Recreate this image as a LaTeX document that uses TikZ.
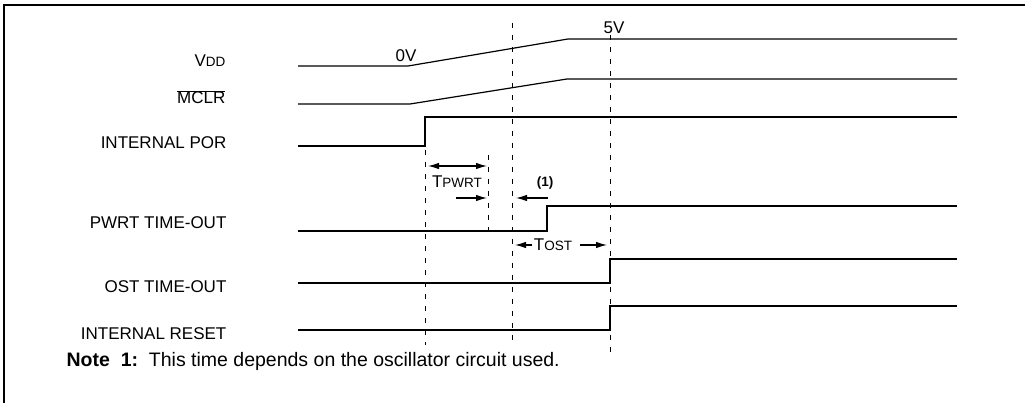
\documentclass[tikz,border=0pt]{standalone}
\usepackage{fontspec}
\setmainfont{Liberation Sans}
\usepackage{tikz}
\usetikzlibrary{arrows.meta}
\def\lbl{\fontsize{17}{20}\selectfont}
\def\smc{\fontsize{13.5}{16}\selectfont}
\def\nte{\fontsize{19.5}{23}\selectfont}

\begin{document}
\begin{tikzpicture}[x=1pt,y=-1pt,line width=1.2pt,font=\lbl,
  sig/.style={anchor=base east,inner sep=0pt},
  wave/.style={line width=1.2pt},
  tick/.style={line width=0.9pt,dash pattern=on 5pt off 7pt},
  span/.style={-{Latex[length=11pt,width=6.5pt]},line width=1.1pt}]
\useasboundingbox (0,0) rectangle (1025,403);
\draw(4,403) -- (4,5) -- (1025,5);
\draw(226,67) node[sig] (vdd) {V\smc DD};
\draw(226,104) node[sig] (mclr) {$\overline{\mbox{MCLR}}$};
\draw(227,149) node[sig] (por) {INTERNAL POR};
\draw(227,229) node[sig] (pwrt) {PWRT TIME-OUT};
\draw(227,293) node[sig] (ost) {OST TIME-OUT};
\draw(227,339) node[sig] (rst) {INTERNAL RESET};
\draw[wave](298,66) -- (408,66) -- (568,39) -- (957,39);
\draw[wave](298,104) -- (410,104) -- (567,79) -- (957,79);
\draw[wave](298,146) -- (425,146) -- (425,117) -- (957,117);
\draw[wave](298,231) -- (547,231) -- (547,206) -- (957,206);
\draw[wave](298,283) -- (610,283) -- (610,259) -- (957,259);
\draw[wave](298,330) -- (610,330) -- (610,306) -- (957,306);
\draw(406,56) node (v0) {0V};
\draw(614,28) node (v5) {5V};
\draw[tick](425,150) -- (425,345);
\draw[tick](488,155) -- (488,230);
\draw[tick](512,23) -- (512,345);
\draw[tick](610,35) -- (610,354);
\draw[span,{Latex[length=11pt,width=6.5pt]}-{Latex[length=11pt,width=6.5pt]}](428,166) -- (487,166);
\draw(457,182) node (tp) {T\smc PWRT};
\draw[span](456,198) -- (487,198);
\draw(545,183) node (n1) {\smc\bfseries (1)};
\draw[span](548,198) -- (516,198);
\draw[span](532,245) -- (515,245);
\draw(553,245) node (to) {T\smc OST};
\draw[span](580,245) -- (607,245);
\draw(66,366) node[anchor=base west,inner sep=0pt] (note) {\nte\textbf{Note\ \ 1:}\ \ This time depends on the oscillator circuit used.};
\end{tikzpicture}
\end{document}
